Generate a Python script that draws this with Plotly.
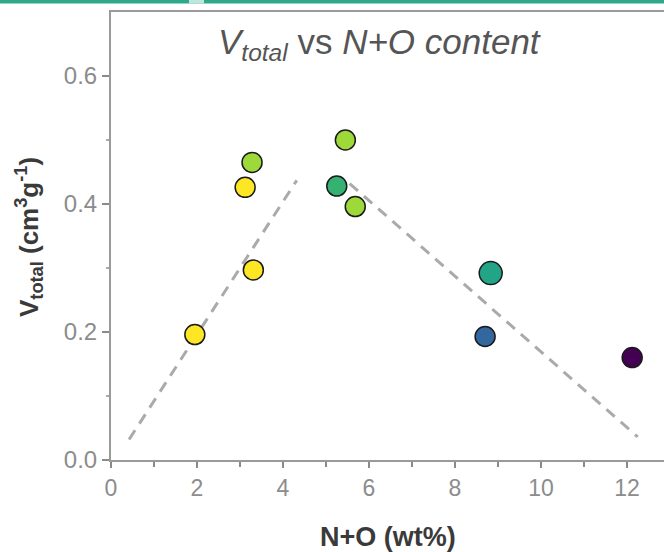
import plotly.graph_objects as go

# Data
n_o = [1.95, 3.12, 3.28, 3.31, 5.25, 5.45, 5.68, 8.83, 8.70, 12.12]
v_total = [0.196, 0.426, 0.465, 0.297, 0.428, 0.500, 0.396, 0.292, 0.193, 0.160]
colors = ["#fde725", "#fde725", "#9ed93a", "#fde725", "#35b272", "#9ed93a",
          "#9ed93a", "#22a486", "#33689f", "#440154"]
sizes = [20, 20, 20, 20, 20, 20, 20, 23, 20, 20]

trend1_x = [0.42, 4.32]
trend1_y = [0.032, 0.437]
trend2_x = [5.55, 12.25]
trend2_y = [0.432, 0.036]

x_ticks = [0, 2, 4, 6, 8, 10, 12]
y_ticks = [0.0, 0.2, 0.4, 0.6]

fig = go.Figure()
for tx, ty in [(trend1_x, trend1_y), (trend2_x, trend2_y)]:
    fig.add_trace(go.Scatter(x=tx, y=ty, mode="lines",
                             line=dict(color="#aaaaaa", width=3, dash="11px,8px"),
                             showlegend=False, hoverinfo="skip"))
fig.add_trace(go.Scatter(x=n_o, y=v_total, mode="markers",
                         marker=dict(color=colors, size=sizes, opacity=1,
                                     line=dict(color="#1a1a1a", width=1.5)),
                         showlegend=False))

W, H = 664, 552
L, T, B = 111, 12, 92
fig.update_layout(
    width=W, height=H,
    margin=dict(l=L, r=0, t=T, b=B),
    paper_bgcolor="white", plot_bgcolor="white",
    font=dict(family="Liberation Sans, Arial, sans-serif"),
    xaxis=dict(range=[0, 12.86], tickvals=x_ticks, ticktext=[str(v) for v in x_ticks],
               showgrid=False, zeroline=False, showline=True, linecolor="#9a9a9a",
               linewidth=2, mirror=True, ticks="outside", ticklen=6, tickwidth=2,
               tickcolor="#8a8a8a", tickfont=dict(size=23, color="#8c8c8c"),
               minor=dict(dtick=1, ticks="outside", ticklen=5, tickwidth=2, tickcolor="#8a8a8a"),
               fixedrange=True),
    yaxis=dict(range=[0, 0.7], tickvals=y_ticks, ticktext=[f"{v:.1f}" for v in y_ticks],
               showgrid=False, zeroline=False, showline=True, linecolor="#9a9a9a",
               linewidth=2, ticks="outside", ticklen=7, tickwidth=2,
               tickcolor="#8a8a8a", tickfont=dict(size=24, color="#8c8c8c"),
               minor=dict(tickvals=[0.1, 0.3, 0.5], ticks="outside", ticklen=3, tickwidth=1.5,
                          tickcolor="#aaaaaa"),
               fixedrange=True),
)

pw = W - L
ph = H - T - B

def px(xp):
    return (xp - L) / pw

def py(yp):
    return (H - B - yp) / ph

fig.add_annotation(text="<i>V<sub>total</sub></i> vs <i>N+O content</i>",
                   x=px(379), y=py(20), xref="paper", yref="paper",
                   showarrow=False, font=dict(size=35, color="#555555"))
fig.add_annotation(text="<b>N+O (wt%)</b>", x=px(388), y=py(554),
                   xref="paper", yref="paper", showarrow=False,
                   font=dict(size=27, color="#3a3a3a"))
fig.add_annotation(text="<b>V<sub>total</sub> (cm<sup>3</sup>g<sup>-1</sup>)</b>",
                   x=px(9), y=py(237), xref="paper", yref="paper", showarrow=False,
                   textangle=-90, font=dict(size=26, color="#3a3a3a"))

# top decorative band
fig.add_shape(type="rect", xref="paper", yref="paper", x0=px(0), x1=px(664),
              y0=py(3.5), y1=py(0), line=dict(width=0), fillcolor="#2ea88a", layer="above")
fig.add_shape(type="rect", xref="paper", yref="paper", x0=px(189), x1=px(204),
              y0=py(3.5), y1=py(0), line=dict(width=0), fillcolor="#bfe6db", layer="above")

fig.write_html("out.html")
